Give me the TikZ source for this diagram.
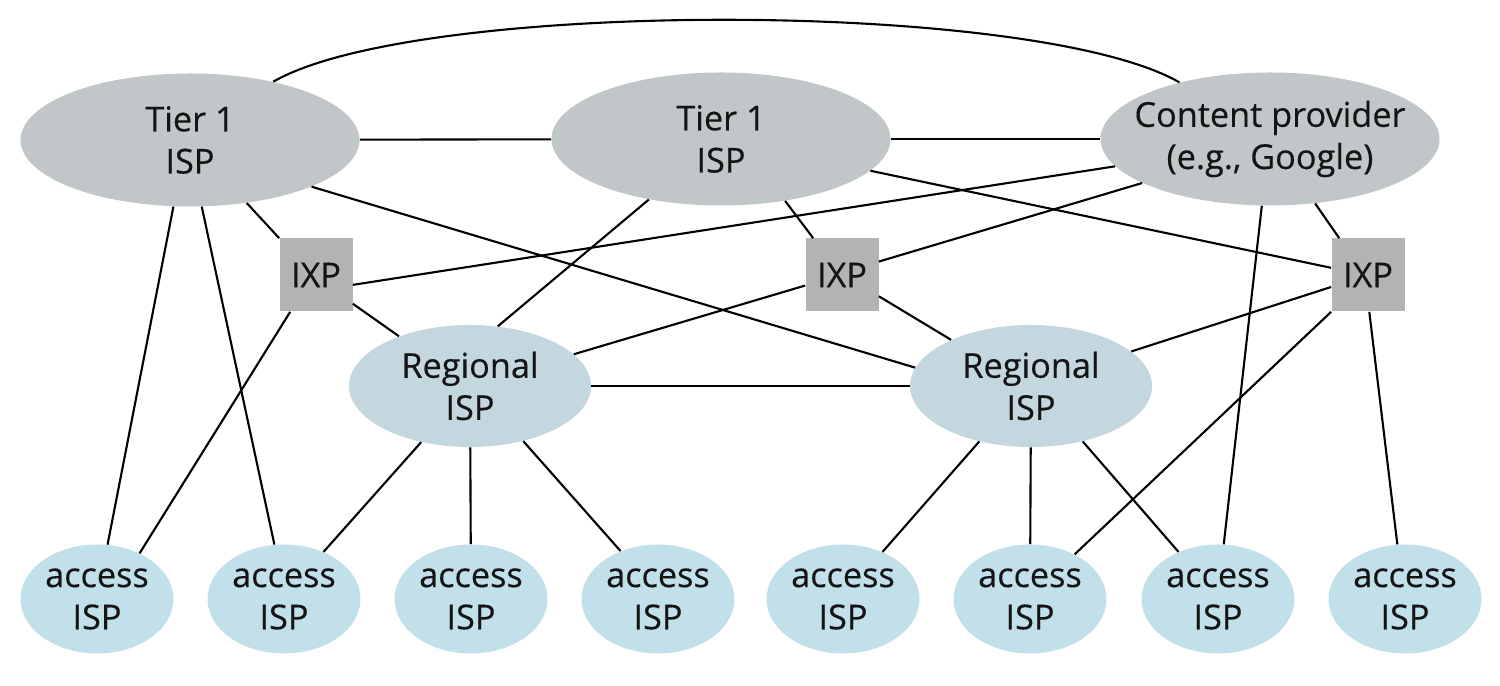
\documentclass[tikz,border=0pt]{standalone}
\usepackage{fontspec}
\setmainfont{Open Sans}[BoldFont={Open Sans}, BoldFeatures={FakeBold=0.35}]
\usepackage{tikz}
\usetikzlibrary{shapes.geometric}

\definecolor{tiergray}{HTML}{C1C6C8}
\definecolor{ixpgray}{HTML}{B3B3B3}
\definecolor{regblue}{HTML}{C5D7DE}
\definecolor{accblue}{HTML}{C2E0EA}
\definecolor{txtblack}{HTML}{141414}

\tikzset{
  isp/.style={ellipse, inner sep=0pt, align=center, text=txtblack,
    font=\fontsize{19.5}{24}\selectfont\bfseries},
  tierisp/.style={isp, fill=tiergray, minimum width=6.78cm, minimum height=2.66cm},
  regisp/.style={isp, fill=regblue, minimum width=4.84cm, minimum height=2.44cm},
  accisp/.style={isp, fill=accblue, minimum width=3.06cm, minimum height=2.18cm},
  ixpbox/.style={rectangle, fill=ixpgray, minimum size=1.46cm, inner sep=0pt,
    text=txtblack, font=\fontsize{19.5}{24}\selectfont\bfseries},
  isplink/.style={line width=1.2pt}
}

\begin{document}
\begin{tikzpicture}
  \useasboundingbox (0,0) rectangle (30,13.72);
  % top level
  \node[tierisp] at (3.8,10.92) (t1a) {Tier 1\\ISP};
  \node[tierisp] at (14.42,10.94) (t1b) {Tier 1\\ISP};
  \node[tierisp, inner xsep=-0.8cm] at (25.4,10.94) (cp) {Content provider\\(e.g., Google)};
  % exchange points
  \node[ixpbox] at (6.32,8.22) (ixa) {IXP};
  \node[ixpbox] at (16.84,8.22) (ixb) {IXP};
  \node[ixpbox] at (27.36,8.22) (ixc) {IXP};
  % regional
  \node[regisp] at (9.4,6.0) (rega) {Regional\\ISP};
  \node[regisp] at (20.62,6.0) (regb) {Regional\\ISP};
  % access
  \node[accisp] at (1.94,1.74) (acc1) {access\\ISP};
  \node[accisp] at (5.68,1.74) (acc2) {access\\ISP};
  \node[accisp] at (9.42,1.74) (acc3) {access\\ISP};
  \node[accisp] at (13.16,1.74) (acc4) {access\\ISP};
  \node[accisp] at (16.86,1.74) (acc5) {access\\ISP};
  \node[accisp] at (20.6,1.74) (acc6) {access\\ISP};
  \node[accisp] at (24.36,1.74) (acc7) {access\\ISP};
  \node[accisp] at (28.1,1.74) (acc8) {access\\ISP};

  \draw[isplink] (t1a.35) to[out=30,in=150,looseness=0.47] (cp.148);
  \draw[isplink] (t1a) -- (t1b);
  \draw[isplink] (t1b) -- (cp);
  \draw[isplink] (t1a.-48) -- (ixa.north west);
  \draw[isplink] (t1a.-21) -- (regb.171);
  \draw[isplink] (t1a.256) -- (acc1.79);
  \draw[isplink] (t1a.-80) -- (acc2.100);
  \draw[isplink] (ixa.235) -- (acc1.47);
  \draw[isplink] (ixa.-38) -- (rega.145);
  \draw[isplink] (ixa.-15) -- (cp.190);
  \draw[isplink] (t1b.220) -- (rega.65);
  \draw[isplink] (t1b.-44) -- (ixb.128);
  \draw[isplink] (t1b.-12) -- (ixc.169);
  \draw[isplink] (ixb.20) -- (cp.199);
  \draw[isplink] (ixb.196) -- (rega.17);
  \draw[isplink] (ixb.-30) -- (regb.150);
  \draw[isplink] (cp.-55) -- (ixc.128);
  \draw[isplink] (cp.263) -- (acc7.84);
  \draw[isplink] (ixc.198) -- (regb.19);
  \draw[isplink] (ixc.south west) -- (acc6.45);
  \draw[isplink] (ixc.272) -- (acc8.98);
  \draw[isplink] (rega) -- (regb);
  \draw[isplink] (rega.229) -- (acc2.50);
  \draw[isplink] (rega) -- (acc3);
  \draw[isplink] (rega.-46) -- (acc4.128);
  \draw[isplink] (regb.227) -- (acc5.50);
  \draw[isplink] (regb) -- (acc6);
  \draw[isplink] (regb.-47) -- (acc7.130);
\end{tikzpicture}
\end{document}
